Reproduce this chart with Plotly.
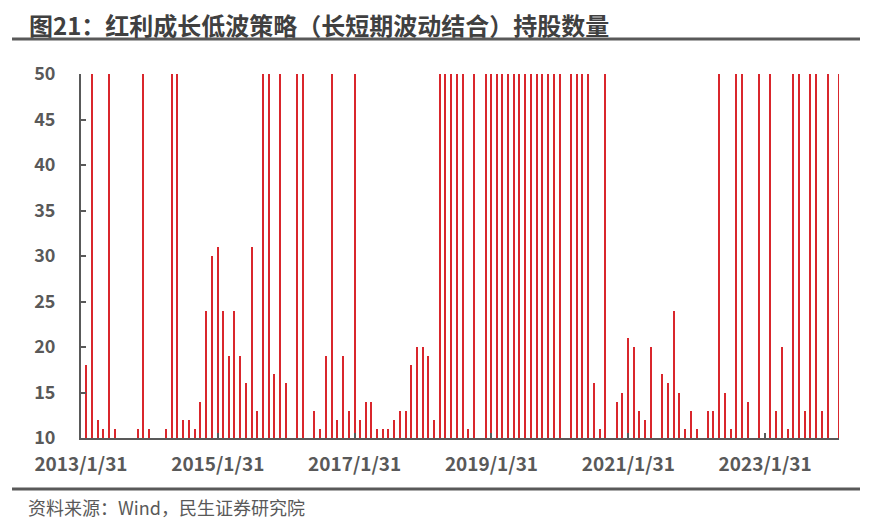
import plotly.graph_objects as go
import pandas as pd

# monthly holdings count, first bar 2013/2/28 ... last bar 2024/2/29
holdings = [
    18, 50, 12, 11, 50, 11, 10, 10, 10, 11, 50, 11, 10, 10, 11, 50, 50,
    12, 12, 11, 14, 24, 30, 31, 24, 19, 24, 19, 16, 31, 13, 50, 50, 17,
    50, 16, 10, 50, 50, 10, 13, 11, 19, 50, 12, 19, 13, 50, 12, 14, 14,
    11, 11, 11, 12, 13, 13, 18, 20, 20, 19, 12,
    50, 50, 50, 50, 50, 11, 50,
    10,
    50, 50, 50, 50, 50, 50, 50, 50, 50, 50, 50, 50, 50, 50,
    10,
    50, 50, 50, 50,
    16, 11, 50, 10, 14, 15, 21, 20, 13, 12, 20,
    10, 17, 16, 24, 15, 11, 13, 11, 10, 13, 13,
    50, 15, 11, 50, 50, 14, 10, 50, 10, 50,
    13, 20, 11, 50, 50, 13, 50, 50, 13, 50, 10, 50,
]
dates = pd.date_range("2013-02-28", periods=len(holdings), freq="ME")

tick_dates = ["2013-01-31", "2015-01-31", "2017-01-31", "2019-01-31", "2021-01-31", "2023-01-31"]
tick_labels = ["2013/1/31", "2015/1/31", "2017/1/31", "2019/1/31", "2021/1/31", "2023/1/31"]
y_ticks = [10, 15, 20, 25, 30, 35, 40, 45, 50]

grey = "#595959"
font_family = "Noto Sans CJK SC, Noto Sans, sans-serif"

fig = go.Figure()

fig.add_trace(go.Bar(
    x=dates, y=holdings,
    marker=dict(color="#D9262C", line=dict(width=0)),
    width=7 * 86400000,
))

# page body adds an 8px offset, so the figure is a bit smaller than the window
fig.update_layout(
    width=867, height=513,
    margin=dict(l=73, r=36, t=66, b=83),
    paper_bgcolor="white", plot_bgcolor="white",
    showlegend=False,
    font=dict(family=font_family, color=grey),
    bargap=0,
)

fig.update_xaxes(
    type="date",
    range=["2013-01-31", "2024-02-29"],
    tickvals=tick_dates, ticktext=tick_labels,
    tickfont=dict(size=19, color=grey, family=font_family, weight="bold"),
    showline=True, linecolor=grey, linewidth=2,
    ticks="inside", ticklen=5, tickcolor=grey, tickwidth=2,
    showgrid=False, zeroline=False,
    ticklabelstandoff=8,
)

fig.update_yaxes(
    range=[10, 50],
    tickvals=y_ticks,
    tickfont=dict(size=18, color=grey, family=font_family, weight="bold"),
    showline=True, linecolor=grey, linewidth=2,
    ticks="inside", ticklen=5, tickcolor=grey, tickwidth=2,
    showgrid=False, zeroline=False,
    ticklabelstandoff=20,
)

# title, rules and source note
fig.add_annotation(
    text="<b>图21：红利成长低波策略（长短期波动结合）持股数量</b>",
    xref="paper", yref="paper", x=-0.0712, y=1.137,
    xanchor="left", yanchor="middle", showarrow=False,
    font=dict(size=24, color="#404040", family=font_family),
)
fig.add_shape(type="line", xref="paper", yref="paper",
              x0=-0.091, x1=1.0277, y0=1.096, y1=1.096,
              line=dict(color=grey, width=3))
fig.add_shape(type="line", xref="paper", yref="paper",
              x0=-0.091, x1=1.0277, y0=-0.140, y1=-0.140,
              line=dict(color=grey, width=3))
fig.add_annotation(
    text="资料来源：Wind，民生证券研究院",
    xref="paper", yref="paper", x=-0.0726, y=-0.1896,
    xanchor="left", yanchor="middle", showarrow=False,
    font=dict(size=18, color=grey, family=font_family),
)

fig.write_html("out.html")
